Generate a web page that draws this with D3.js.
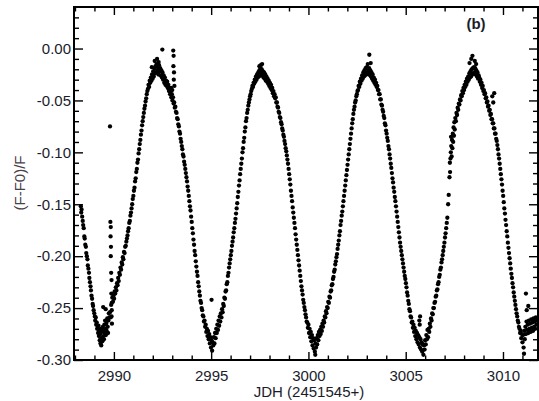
<!DOCTYPE html>
<html><head><meta charset="utf-8">
<script src="https://cdn.jsdelivr.net/npm/d3@7"></script>
<style>
html,body{margin:0;padding:0;background:#fff;}
svg{display:block;}
text{font-family:"Liberation Sans",Arial,Helvetica,sans-serif;}
</style></head>
<body>
<script>
// ---- tick values ----
const xMajorTicks = [2990, 2995, 3000, 3005, 3010];
const xMinorTicks = [2988, 2989, 2991, 2992, 2993, 2994, 2996, 2997, 2998, 2999, 3001, 3002, 3003, 3004, 3006, 3007, 3008, 3009, 3011];
const yMajorTicks = [-0.30, -0.25, -0.20, -0.15, -0.10, -0.05, 0.00];
const yMinorTicks = [-0.29, -0.28, -0.27, -0.26, -0.24, -0.23, -0.22, -0.21, -0.19, -0.18, -0.17, -0.16, -0.14, -0.13, -0.12, -0.11, -0.09, -0.08, -0.07, -0.06, -0.04, -0.03, -0.02, -0.01, 0.01, 0.02, 0.03];
const xTitle = "JDH (2451545+)";
const yTitle = "(F-F0)/F";
const panelLabel = "(b)";

// ---- data: [JDH, (F-F0)/F] ----
const fallA = [[2988.30,-0.152],[2988.32,-0.158],[2988.34,-0.155],[2988.37,-0.162],[2988.40,-0.166],[2988.42,-0.170],[2988.45,-0.173],[2988.48,-0.181],[2988.50,-0.183],[2988.53,-0.189],[2988.56,-0.191],[2988.58,-0.197],[2988.61,-0.200],[2988.64,-0.203],[2988.66,-0.209],[2988.69,-0.212],[2988.72,-0.216],[2988.74,-0.221],[2988.77,-0.225],[2988.80,-0.229],[2988.82,-0.233],[2988.85,-0.238],[2988.88,-0.241],[2988.91,-0.246],[2988.93,-0.248],[2988.96,-0.252],[2988.99,-0.255],[2989.02,-0.258],[2989.04,-0.262],[2989.07,-0.259],[2989.09,-0.266],[2989.12,-0.264],[2989.14,-0.270],[2989.17,-0.268],[2989.19,-0.274],[2989.21,-0.267],[2989.23,-0.277],[2989.25,-0.272],[2989.27,-0.281],[2989.29,-0.275],[2989.31,-0.284],[2989.33,-0.270],[2989.35,-0.286],[2989.37,-0.279],[2989.39,-0.273],[2989.41,-0.282],[2989.43,-0.268],[2989.45,-0.277],[2989.47,-0.271],[2989.49,-0.280],[2989.51,-0.266],[2989.53,-0.274],[2989.55,-0.262],[2989.57,-0.270],[2989.59,-0.276],[2989.61,-0.265],[2989.63,-0.272],[2989.66,-0.260],[2989.68,-0.268],[2989.70,-0.274],[2989.72,-0.262],[2989.74,-0.255],[2989.77,-0.259],[2989.80,-0.254],[2989.83,-0.259]];

const riseB = [[2989.86,-0.247],[2989.89,-0.245],[2989.92,-0.240],[2989.95,-0.244],[2989.98,-0.238],[2990.01,-0.241],[2990.04,-0.234],[2990.07,-0.236],[2990.10,-0.230],[2990.13,-0.233],[2990.16,-0.226],[2990.19,-0.228],[2990.22,-0.221],[2990.25,-0.224],[2990.28,-0.216],[2990.31,-0.218],[2990.34,-0.211],[2990.37,-0.213],[2990.40,-0.206],[2990.43,-0.208],[2990.46,-0.201],[2990.49,-0.203],[2990.52,-0.196],[2990.55,-0.197],[2990.58,-0.191],[2990.61,-0.190],[2990.64,-0.186],[2990.67,-0.183],[2990.70,-0.180],[2990.73,-0.176],[2990.76,-0.173],[2990.79,-0.168],[2990.82,-0.166],[2990.85,-0.161],[2990.88,-0.158],[2990.91,-0.154],[2990.94,-0.150],[2990.97,-0.145],[2991.00,-0.142],[2991.03,-0.137],[2991.06,-0.134],[2991.09,-0.128],[2991.12,-0.125],[2991.15,-0.119],[2991.18,-0.116],[2991.21,-0.110],[2991.24,-0.107],[2991.27,-0.101],[2991.30,-0.097],[2991.33,-0.092],[2991.36,-0.088],[2991.39,-0.083],[2991.42,-0.079],[2991.45,-0.074],[2991.48,-0.070],[2991.51,-0.066],[2991.54,-0.062],[2991.57,-0.058],[2991.60,-0.055],[2991.63,-0.051],[2991.66,-0.048],[2991.69,-0.044],[2991.72,-0.041],[2991.75,-0.039],[2991.78,-0.035],[2991.81,-0.037],[2991.84,-0.031],[2991.87,-0.033],[2991.90,-0.028],[2991.93,-0.031],[2991.96,-0.025],[2991.99,-0.029],[2992.02,-0.022],[2992.05,-0.027],[2992.08,-0.019],[2992.11,-0.024],[2992.14,-0.017],[2992.17,-0.023],[2992.20,-0.015],[2992.23,-0.021],[2992.26,-0.018],[2992.29,-0.025],[2992.32,-0.016],[2992.35,-0.022],[2992.38,-0.019],[2992.41,-0.026],[2992.44,-0.021],[2992.47,-0.028],[2992.50,-0.023],[2992.53,-0.030],[2992.56,-0.026],[2992.59,-0.033],[2992.62,-0.028],[2992.65,-0.035],[2992.68,-0.031]];

const fallC = [[2992.71,-0.036],[2992.74,-0.032],[2992.77,-0.038],[2992.80,-0.035],[2992.83,-0.041],[2992.86,-0.038],[2992.89,-0.044],[2992.92,-0.041],[2992.95,-0.047],[2992.98,-0.044],[2993.01,-0.050],[2993.04,-0.047],[2993.07,-0.053],[2993.10,-0.052],[2993.13,-0.057],[2993.16,-0.056],[2993.19,-0.061],[2993.22,-0.062],[2993.25,-0.067],[2993.28,-0.068],[2993.31,-0.073],[2993.34,-0.075],[2993.37,-0.080],[2993.40,-0.082],[2993.43,-0.087],[2993.46,-0.090],[2993.49,-0.094],[2993.52,-0.097],[2993.55,-0.102],[2993.58,-0.104],[2993.61,-0.109],[2993.64,-0.112],[2993.67,-0.116],[2993.70,-0.120],[2993.73,-0.124],[2993.76,-0.128],[2993.79,-0.133],[2993.82,-0.137],[2993.85,-0.142],[2993.88,-0.147],[2993.91,-0.152],[2993.94,-0.156],[2993.97,-0.162],[2994.00,-0.167],[2994.03,-0.173],[2994.06,-0.178],[2994.09,-0.184],[2994.12,-0.189],[2994.15,-0.195],[2994.18,-0.199],[2994.21,-0.205],[2994.24,-0.210],[2994.27,-0.215],[2994.30,-0.219],[2994.33,-0.225],[2994.36,-0.229],[2994.39,-0.234],[2994.42,-0.238],[2994.45,-0.243],[2994.48,-0.245],[2994.51,-0.250],[2994.54,-0.252],[2994.57,-0.257],[2994.60,-0.258],[2994.63,-0.263],[2994.66,-0.262],[2994.69,-0.268],[2994.72,-0.266],[2994.75,-0.273],[2994.78,-0.270],[2994.81,-0.277],[2994.84,-0.272],[2994.87,-0.280],[2994.90,-0.275],[2994.93,-0.284],[2994.96,-0.278],[2994.99,-0.288],[2995.02,-0.281],[2995.05,-0.291],[2995.08,-0.283],[2995.11,-0.286],[2995.14,-0.278],[2995.17,-0.284],[2995.20,-0.274],[2995.23,-0.279],[2995.26,-0.270],[2995.29,-0.274]];

const riseD = [[2995.32,-0.266],[2995.35,-0.271],[2995.38,-0.262],[2995.41,-0.267],[2995.44,-0.258],[2995.47,-0.263],[2995.50,-0.255],[2995.53,-0.259],[2995.56,-0.251],[2995.59,-0.254],[2995.62,-0.246],[2995.65,-0.248],[2995.68,-0.240],[2995.71,-0.241],[2995.74,-0.234],[2995.77,-0.233],[2995.80,-0.227],[2995.83,-0.225],[2995.86,-0.219],[2995.89,-0.216],[2995.92,-0.211],[2995.95,-0.207],[2995.98,-0.203],[2996.01,-0.199],[2996.04,-0.195],[2996.07,-0.190],[2996.10,-0.186],[2996.13,-0.182],[2996.16,-0.177],[2996.19,-0.173],[2996.22,-0.168],[2996.25,-0.164],[2996.28,-0.159],[2996.31,-0.154],[2996.34,-0.149],[2996.37,-0.143],[2996.40,-0.138],[2996.43,-0.132],[2996.46,-0.127],[2996.49,-0.121],[2996.52,-0.116],[2996.55,-0.111],[2996.58,-0.106],[2996.61,-0.100],[2996.64,-0.096],[2996.67,-0.090],[2996.70,-0.086],[2996.73,-0.080],[2996.76,-0.076],[2996.79,-0.070],[2996.82,-0.067],[2996.85,-0.062],[2996.88,-0.059],[2996.91,-0.055],[2996.94,-0.052],[2996.97,-0.049],[2997.00,-0.046],[2997.03,-0.044],[2997.06,-0.041],[2997.09,-0.039],[2997.12,-0.036],[2997.15,-0.037],[2997.18,-0.033],[2997.21,-0.034],[2997.24,-0.030],[2997.27,-0.032],[2997.30,-0.027],[2997.33,-0.030],[2997.36,-0.025],[2997.39,-0.028],[2997.42,-0.023],[2997.45,-0.027],[2997.48,-0.021],[2997.51,-0.026],[2997.54,-0.019],[2997.57,-0.024],[2997.60,-0.020],[2997.63,-0.026],[2997.66,-0.022],[2997.69,-0.028],[2997.72,-0.023],[2997.75,-0.029],[2997.78,-0.025],[2997.81,-0.031],[2997.84,-0.027],[2997.87,-0.032],[2997.90,-0.029]];

const fallE = [[2997.93,-0.034],[2997.96,-0.031],[2997.99,-0.036],[2998.02,-0.033],[2998.05,-0.038],[2998.08,-0.035],[2998.11,-0.040],[2998.14,-0.038],[2998.17,-0.043],[2998.20,-0.041],[2998.23,-0.046],[2998.26,-0.044],[2998.29,-0.048],[2998.32,-0.047],[2998.35,-0.052],[2998.38,-0.052],[2998.41,-0.056],[2998.44,-0.057],[2998.47,-0.061],[2998.50,-0.062],[2998.53,-0.066],[2998.56,-0.067],[2998.59,-0.071],[2998.62,-0.073],[2998.65,-0.077],[2998.68,-0.079],[2998.71,-0.083],[2998.74,-0.085],[2998.77,-0.089],[2998.80,-0.092],[2998.83,-0.096],[2998.86,-0.099],[2998.89,-0.103],[2998.92,-0.107],[2998.95,-0.111],[2998.98,-0.116],[2999.01,-0.121],[2999.04,-0.126],[2999.07,-0.131],[2999.10,-0.137],[2999.13,-0.142],[2999.16,-0.147],[2999.19,-0.153],[2999.22,-0.158],[2999.25,-0.163],[2999.28,-0.168],[2999.31,-0.173],[2999.34,-0.179],[2999.37,-0.184],[2999.40,-0.189],[2999.43,-0.194],[2999.46,-0.199],[2999.49,-0.204],[2999.52,-0.209],[2999.55,-0.214],[2999.58,-0.219],[2999.61,-0.224],[2999.64,-0.229],[2999.67,-0.233],[2999.70,-0.237],[2999.73,-0.242],[2999.76,-0.245],[2999.79,-0.249],[2999.82,-0.252],[2999.85,-0.256],[2999.88,-0.259],[2999.91,-0.263],[2999.94,-0.264],[2999.97,-0.269],[3000.00,-0.266],[3000.03,-0.274],[3000.06,-0.270],[3000.09,-0.278],[3000.12,-0.273],[3000.15,-0.282],[3000.18,-0.276],[3000.21,-0.286],[3000.24,-0.279],[3000.27,-0.289],[3000.30,-0.281],[3000.33,-0.292],[3000.36,-0.284],[3000.39,-0.288],[3000.42,-0.279],[3000.45,-0.285],[3000.48,-0.276],[3000.51,-0.281],[3000.54,-0.273]];

const riseF = [[3000.57,-0.277],[3000.60,-0.271],[3000.63,-0.275],[3000.66,-0.268],[3000.69,-0.272],[3000.72,-0.265],[3000.75,-0.268],[3000.78,-0.262],[3000.81,-0.264],[3000.84,-0.258],[3000.87,-0.259],[3000.90,-0.253],[3000.93,-0.255],[3000.96,-0.249],[3000.99,-0.250],[3001.02,-0.244],[3001.05,-0.245],[3001.08,-0.239],[3001.11,-0.240],[3001.14,-0.234],[3001.17,-0.233],[3001.20,-0.228],[3001.23,-0.227],[3001.26,-0.222],[3001.29,-0.220],[3001.32,-0.215],[3001.35,-0.213],[3001.38,-0.208],[3001.41,-0.205],[3001.44,-0.201],[3001.47,-0.198],[3001.50,-0.193],[3001.53,-0.189],[3001.56,-0.185],[3001.59,-0.180],[3001.62,-0.176],[3001.65,-0.170],[3001.68,-0.166],[3001.71,-0.161],[3001.74,-0.157],[3001.77,-0.152],[3001.80,-0.147],[3001.83,-0.142],[3001.86,-0.137],[3001.89,-0.132],[3001.92,-0.127],[3001.95,-0.122],[3001.98,-0.117],[3002.01,-0.112],[3002.04,-0.107],[3002.07,-0.102],[3002.10,-0.097],[3002.13,-0.092],[3002.16,-0.087],[3002.19,-0.082],[3002.22,-0.077],[3002.25,-0.072],[3002.28,-0.068],[3002.31,-0.063],[3002.34,-0.059],[3002.37,-0.056],[3002.40,-0.052],[3002.43,-0.050],[3002.46,-0.046],[3002.49,-0.044],[3002.52,-0.041],[3002.55,-0.040],[3002.58,-0.036],[3002.61,-0.037],[3002.64,-0.032],[3002.67,-0.034],[3002.70,-0.029],[3002.73,-0.031],[3002.76,-0.026],[3002.79,-0.029],[3002.82,-0.023],[3002.85,-0.027],[3002.88,-0.021],[3002.91,-0.026],[3002.94,-0.019],[3002.97,-0.024],[3003.00,-0.018],[3003.03,-0.023],[3003.06,-0.020],[3003.09,-0.025],[3003.12,-0.019],[3003.15,-0.024],[3003.18,-0.021],[3003.21,-0.027],[3003.24,-0.023],[3003.27,-0.029],[3003.30,-0.025],[3003.33,-0.031]];

const fallG = [[3003.36,-0.028],[3003.39,-0.033],[3003.42,-0.030],[3003.45,-0.035],[3003.48,-0.033],[3003.51,-0.037],[3003.54,-0.036],[3003.57,-0.040],[3003.60,-0.040],[3003.63,-0.044],[3003.66,-0.044],[3003.69,-0.049],[3003.72,-0.049],[3003.75,-0.054],[3003.78,-0.055],[3003.81,-0.059],[3003.84,-0.061],[3003.87,-0.065],[3003.90,-0.067],[3003.93,-0.072],[3003.96,-0.074],[3003.99,-0.079],[3004.02,-0.082],[3004.05,-0.086],[3004.08,-0.089],[3004.11,-0.094],[3004.14,-0.097],[3004.17,-0.102],[3004.20,-0.106],[3004.23,-0.111],[3004.26,-0.115],[3004.29,-0.120],[3004.32,-0.125],[3004.35,-0.129],[3004.38,-0.134],[3004.41,-0.138],[3004.44,-0.143],[3004.47,-0.147],[3004.50,-0.152],[3004.53,-0.157],[3004.56,-0.162],[3004.59,-0.167],[3004.62,-0.172],[3004.65,-0.177],[3004.68,-0.182],[3004.71,-0.187],[3004.74,-0.191],[3004.77,-0.195],[3004.80,-0.199],[3004.83,-0.203],[3004.86,-0.207],[3004.89,-0.211],[3004.92,-0.215],[3004.95,-0.219],[3004.98,-0.222],[3005.01,-0.226],[3005.04,-0.230],[3005.07,-0.235],[3005.10,-0.238],[3005.13,-0.243],[3005.16,-0.246],[3005.19,-0.251],[3005.22,-0.253],[3005.25,-0.258],[3005.28,-0.259],[3005.31,-0.264],[3005.34,-0.263],[3005.37,-0.269],[3005.40,-0.266],[3005.43,-0.273],[3005.46,-0.269],[3005.49,-0.277],[3005.52,-0.272],[3005.55,-0.280],[3005.58,-0.274],[3005.61,-0.283],[3005.64,-0.276],[3005.67,-0.285],[3005.70,-0.278],[3005.73,-0.288],[3005.76,-0.280],[3005.79,-0.290],[3005.82,-0.283],[3005.85,-0.292],[3005.88,-0.285],[3005.91,-0.295],[3005.94,-0.286],[3005.97,-0.290],[3006.00,-0.281],[3006.03,-0.285],[3006.06,-0.276],[3006.09,-0.280],[3006.12,-0.271]];

const riseH = [[3006.15,-0.278],[3006.18,-0.270],[3006.21,-0.273],[3006.24,-0.265],[3006.27,-0.268],[3006.30,-0.260],[3006.33,-0.262],[3006.36,-0.255],[3006.39,-0.256],[3006.42,-0.250],[3006.45,-0.250],[3006.48,-0.245],[3006.51,-0.244],[3006.54,-0.239],[3006.57,-0.238],[3006.60,-0.233],[3006.63,-0.232],[3006.66,-0.227],[3006.69,-0.225],[3006.72,-0.220],[3006.75,-0.218],[3006.78,-0.213],[3006.81,-0.211],[3006.84,-0.206],[3006.87,-0.203],[3006.90,-0.199],[3006.93,-0.195],[3006.96,-0.191],[3006.99,-0.187],[3007.02,-0.182],[3007.05,-0.178],[3007.08,-0.173],[3007.11,-0.168],[3007.14,-0.163],[3007.18,-0.150],[3007.21,-0.141],[3007.25,-0.124],[3007.28,-0.119],[3007.30,-0.106],[3007.32,-0.100],[3007.34,-0.094],[3007.36,-0.104],[3007.38,-0.088],[3007.40,-0.096],[3007.42,-0.082],[3007.44,-0.090],[3007.46,-0.076],[3007.48,-0.084],[3007.50,-0.071],[3007.52,-0.078],[3007.55,-0.067],[3007.58,-0.070],[3007.61,-0.062],[3007.64,-0.064],[3007.67,-0.057],[3007.70,-0.059],[3007.73,-0.053],[3007.76,-0.054],[3007.79,-0.049],[3007.82,-0.050],[3007.85,-0.045],[3007.88,-0.046],[3007.91,-0.041],[3007.94,-0.043],[3007.97,-0.038],[3008.00,-0.040],[3008.03,-0.035],[3008.06,-0.037],[3008.09,-0.032],[3008.12,-0.035],[3008.15,-0.029],[3008.18,-0.032],[3008.21,-0.027],[3008.24,-0.030],[3008.27,-0.024],[3008.30,-0.028],[3008.33,-0.022],[3008.36,-0.027],[3008.39,-0.020],[3008.42,-0.025],[3008.45,-0.019],[3008.48,-0.024],[3008.51,-0.018],[3008.54,-0.023],[3008.57,-0.019],[3008.60,-0.025],[3008.63,-0.021],[3008.66,-0.027],[3008.69,-0.023],[3008.72,-0.029],[3008.75,-0.026]];

const fallI = [[3008.78,-0.028],[3008.81,-0.032],[3008.84,-0.030],[3008.87,-0.035],[3008.90,-0.033],[3008.93,-0.038],[3008.96,-0.036],[3008.99,-0.041],[3009.02,-0.040],[3009.05,-0.044],[3009.08,-0.043],[3009.11,-0.048],[3009.14,-0.047],[3009.17,-0.052],[3009.20,-0.051],[3009.23,-0.056],[3009.26,-0.055],[3009.29,-0.060],[3009.32,-0.059],[3009.35,-0.064],[3009.38,-0.063],[3009.41,-0.068],[3009.44,-0.068],[3009.47,-0.072],[3009.50,-0.072],[3009.53,-0.077],[3009.56,-0.077],[3009.59,-0.082],[3009.62,-0.082],[3009.65,-0.087],[3009.68,-0.089],[3009.71,-0.093],[3009.74,-0.097],[3009.77,-0.102],[3009.80,-0.106],[3009.83,-0.111],[3009.86,-0.116],[3009.89,-0.121],[3009.92,-0.126],[3009.95,-0.131],[3009.98,-0.137],[3010.01,-0.142],[3010.04,-0.148],[3010.07,-0.154],[3010.10,-0.159],[3010.13,-0.165],[3010.16,-0.170],[3010.19,-0.176],[3010.22,-0.181],[3010.25,-0.187],[3010.28,-0.192],[3010.31,-0.197],[3010.34,-0.202],[3010.37,-0.207],[3010.40,-0.212],[3010.43,-0.217],[3010.46,-0.221],[3010.49,-0.226],[3010.52,-0.230],[3010.55,-0.235],[3010.58,-0.239],[3010.61,-0.243],[3010.64,-0.247],[3010.67,-0.251],[3010.70,-0.255],[3010.73,-0.258],[3010.76,-0.262],[3010.79,-0.264],[3010.82,-0.268],[3010.85,-0.270],[3010.88,-0.274],[3010.91,-0.272],[3010.94,-0.279],[3010.97,-0.275],[3011.00,-0.283],[3011.03,-0.276],[3011.06,-0.288],[3011.09,-0.272],[3011.12,-0.280],[3011.15,-0.268],[3011.18,-0.275],[3011.21,-0.263],[3011.24,-0.271],[3011.27,-0.266],[3011.30,-0.274],[3011.33,-0.262],[3011.36,-0.270],[3011.39,-0.265],[3011.42,-0.273],[3011.45,-0.261],[3011.48,-0.269],[3011.51,-0.264],[3011.54,-0.272],[3011.57,-0.260],[3011.60,-0.268],[3011.63,-0.263],[3011.66,-0.270],[3011.69,-0.259],[3011.72,-0.266],[3011.75,-0.262]];

const scatterPts = [[2989.80,-0.075],[2989.82,-0.167],[2989.84,-0.172],[2989.83,-0.181],[2989.85,-0.191],[2989.84,-0.200],[2989.86,-0.216],[2989.88,-0.223],[2989.87,-0.236],[2989.89,-0.252],[2989.88,-0.258],[2989.90,-0.265],[2989.45,-0.249],[2989.58,-0.251],[2992.49,-0.001],[2992.22,-0.010],[2991.95,-0.018],[2992.10,-0.012],[2992.30,-0.013],[2993.05,-0.002],[2993.07,-0.007],[2993.06,-0.017],[2993.09,-0.023],[2993.08,-0.030],[2993.11,-0.036],[2993.00,-0.040],[2992.95,-0.038],[2995.02,-0.242],[2997.55,-0.016],[2997.62,-0.015],[2997.48,-0.017],[3000.35,-0.295],[3003.13,-0.006],[3003.05,-0.015],[3003.20,-0.014],[3005.70,-0.262],[3005.74,-0.258],[3005.72,-0.266],[3007.33,-0.085],[3007.27,-0.110],[3008.37,-0.010],[3008.43,-0.007],[3008.55,-0.012],[3008.62,-0.015],[3008.28,-0.014],[3009.45,-0.046],[3009.50,-0.052],[3009.55,-0.043],[3011.08,-0.294],[3011.18,-0.236],[3011.22,-0.252],[3011.30,-0.248]];

const allPoints = [].concat(fallA, riseB, fallC, riseD, fallE, riseF, fallG, riseH, fallI, scatterPts);

// ---- layout ----
const W = 539, H = 401;
const L = 74, R = 538, T = 7, B = 360;
const x = d3.scaleLinear().domain([2987.95, 3011.8]).range([L, R]);
const y = d3.scaleLinear().domain([-0.30, 0.04]).range([B, T]);

const svg = d3.select("body").append("svg").attr("width", W).attr("height", H);

// points
const clipId = "plotclip";
svg.append("clipPath").attr("id", clipId).append("rect")
  .attr("x", L).attr("y", T).attr("width", R - L).attr("height", B - T);
svg.append("g").attr("clip-path", `url(#${clipId})`)
  .selectAll("circle").data(allPoints).join("circle")
  .attr("cx", d => x(d[0])).attr("cy", d => y(d[1]))
  .attr("r", 2.15).attr("fill", "#000");

const tickColor = "#000";
const labelColor = "#1a1c2c";
const fmtY = d => d.toFixed(2);

function styleAxis(g) {
  g.select(".domain").remove();
  g.selectAll(".tick line").attr("stroke", tickColor).attr("stroke-width", 1.4);
  g.selectAll(".tick text").attr("fill", labelColor).attr("font-size", 15)
    .attr("font-family", '"Liberation Sans", Arial, sans-serif');
}

// bottom
svg.append("g").attr("transform", `translate(0,${B})`)
  .call(d3.axisBottom(x).tickValues(xMajorTicks).tickSize(-8).tickPadding(10).tickFormat(d3.format("d")))
  .call(styleAxis);
svg.append("g").attr("transform", `translate(0,${B})`)
  .call(d3.axisBottom(x).tickValues(xMinorTicks).tickSize(-4.5).tickFormat(""))
  .call(styleAxis);
// top
svg.append("g").attr("transform", `translate(0,${T})`)
  .call(d3.axisTop(x).tickValues(xMajorTicks).tickSize(-8).tickFormat(""))
  .call(styleAxis);
svg.append("g").attr("transform", `translate(0,${T})`)
  .call(d3.axisTop(x).tickValues(xMinorTicks).tickSize(-4.5).tickFormat(""))
  .call(styleAxis);
// left
svg.append("g").attr("transform", `translate(${L},0)`)
  .call(d3.axisLeft(y).tickValues(yMajorTicks).tickSize(-9).tickPadding(3).tickFormat(fmtY))
  .call(styleAxis);
svg.append("g").attr("transform", `translate(${L},0)`)
  .call(d3.axisLeft(y).tickValues(yMinorTicks).tickSize(-5).tickFormat(""))
  .call(styleAxis);
// right
svg.append("g").attr("transform", `translate(${R},0)`)
  .call(d3.axisRight(y).tickValues(yMajorTicks).tickSize(-9).tickFormat(""))
  .call(styleAxis);
svg.append("g").attr("transform", `translate(${R},0)`)
  .call(d3.axisRight(y).tickValues(yMinorTicks).tickSize(-5).tickFormat(""))
  .call(styleAxis);

// frame
svg.append("rect").attr("x", L).attr("y", T).attr("width", R - L).attr("height", B - T)
  .attr("fill", "none").attr("stroke", "#000").attr("stroke-width", 2);

// titles
svg.append("text").attr("x", 309).attr("y", 397)
  .attr("text-anchor", "middle").attr("font-size", 15).attr("fill", labelColor)
  .text(xTitle);
svg.append("text").attr("transform", "translate(25,183) rotate(-90)")
  .attr("text-anchor", "middle").attr("font-size", 15).attr("fill", "#4a4048")
  .text(yTitle);
svg.append("text").attr("x", 476).attr("y", 29).attr("text-anchor", "middle")
  .attr("font-size", 15).attr("font-weight", "bold").attr("fill", labelColor)
  .text(panelLabel);
</script>
</body></html>
